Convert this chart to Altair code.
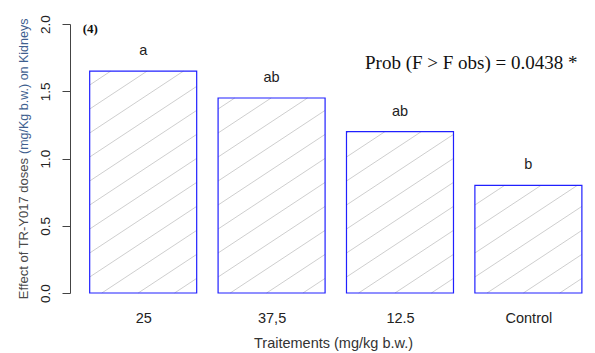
import json
import altair as alt
import pandas as pd

# ---- data ----
categories = ["25", "37,5", "12.5", "Control"]
values = [1.65, 1.45, 1.20, 0.80]
letters = ["a", "ab", "ab", "b"]
y_ticks = [0.0, 0.5, 1.0, 1.5, 2.0]

# ---- layout constants (R barplot: width 1, space 0.2) ----
BAR_W = 1.0
SPACE = 0.2
PX_PER_UNIT = 107
PLOT_W = 515
X_DOMAIN = [0.016, 0.016 + PLOT_W / PX_PER_UNIT]
PLOT_H = 269

lefts = [SPACE + i * (BAR_W + SPACE) for i in range(len(categories))]
centers = [l + BAR_W / 2 for l in lefts]

bars = pd.DataFrame({
    "cat": categories,
    "left": lefts,
    "right": [l + BAR_W for l in lefts],
    "center": centers,
    "value": values,
    "letter": letters,
})

# ---- hatch lines (style: slope & spacing in pixels converted to data units) ----
px_per_x = PX_PER_UNIT
px_per_y = PLOT_H / 2.0
slope = 0.66 * px_per_x / px_per_y
spacing = 24 / px_per_y
offset = 16 / px_per_y
rows = []
for a, v in zip(lefts, values):
    b = a + BAR_W
    k = -20
    while True:
        c = offset + k * spacing
        k += 1
        if c >= v:
            break
        if c <= -slope * (b - a):
            continue
        x1 = max(a, a - c / slope)
        x2 = min(b, a + (v - c) / slope)
        if x2 <= x1:
            continue
        rows.append({"x1": x1, "y1": slope * (x1 - a) + c,
                     "x2": x2, "y2": slope * (x2 - a) + c})
hatch = pd.DataFrame(rows)

label_expr = json.dumps(categories) + "[round((datum.value - %g) / %g)]" % (centers[0], BAR_W + SPACE)

xscale = alt.Scale(domain=X_DOMAIN, nice=False, zero=False)
yscale = alt.Scale(domain=[0, 2], nice=False)

x_axis = alt.Axis(values=centers, labelExpr=label_expr, domain=False, ticks=False,
                  grid=False, labelFont="Liberation Sans", labelFontSize=14.5,
                  labelColor="#222222", labelPadding=18,
                  title="Traitements (mg/kg b.w.)", titleFont="Liberation Sans",
                  titleFontSize=14.5, titleFontWeight="normal", titleColor="#333333",
                  titlePadding=12, titleX=263)
y_axis = alt.Axis(values=y_ticks, format=".1f", grid=False, domainColor="#444444",
                  tickColor="#444444", tickSize=8, labelAngle=270, labelAlign="center",
                  labelBaseline="bottom", labelPadding=10, labelFont="Liberation Sans",
                  labelFontSize=13.5, labelColor="#222222", title=None)

base = alt.Chart(bars)

hatch_layer = alt.Chart(hatch).mark_rule(color="#c8c8c8", strokeWidth=0.9).encode(
    x=alt.X("x1:Q", scale=xscale, axis=x_axis),
    y=alt.Y("y1:Q", scale=yscale, axis=y_axis),
    x2="x2:Q",
    y2="y2:Q",
)

bar_layer = base.mark_rect(fill="white", fillOpacity=0, stroke="#2020ff", strokeWidth=1.2).encode(
    x=alt.X("left:Q", scale=xscale),
    x2="right:Q",
    y=alt.Y("value:Q", scale=yscale),
    y2=alt.datum(0),
)

letter_layer = base.mark_text(font="Liberation Sans", fontSize=14.5, color="#222222",
                              baseline="alphabetic", dy=-16).encode(
    x=alt.X("center:Q", scale=xscale),
    y=alt.Y("value:Q", scale=yscale),
    text="letter:N",
)

# y-axis title, drawn in two colours as in the original
title_df = pd.DataFrame({
    "part": ["Effect of TR-Y017 doses", "(mg/Kg b.w.) on Kidneys"],
})
title1 = alt.Chart(title_df.iloc[[0]]).mark_text(
    angle=270, align="right", baseline="middle", font="Liberation Sans",
    fontSize=13, color="#4a4a4a").encode(
    x=alt.value(-46), y=alt.value(134), text="part:N")
title2 = alt.Chart(title_df.iloc[[1]]).mark_text(
    angle=270, align="left", baseline="middle", font="Liberation Sans",
    fontSize=12.5, color="#3f5f8f").encode(
    x=alt.value(-46), y=alt.value(130), text="part:N")

# annotations
annot = pd.DataFrame({
    "x": [0.135, 2.773],
    "y": [1.93, 1.665],
    "t": ["(4)", "Prob (F > F obs) = 0.0438 *"],
})
panel_tag = alt.Chart(annot.iloc[[0]]).mark_text(
    font="Liberation Serif", fontSize=13, fontWeight="bold", color="#111111",
    align="left", baseline="alphabetic").encode(
    x=alt.X("x:Q", scale=xscale), y=alt.Y("y:Q", scale=yscale), text="t:N")
prob = alt.Chart(annot.iloc[[1]]).mark_text(
    font="Liberation Serif", fontSize=19, color="#111111",
    align="left", baseline="alphabetic").encode(
    x=alt.X("x:Q", scale=xscale), y=alt.Y("y:Q", scale=yscale), text="t:N")

chart = alt.layer(hatch_layer, bar_layer, letter_layer, title1, title2, panel_tag, prob).properties(
    width=PLOT_W,
    height=PLOT_H,
    autosize=alt.AutoSizeParams(type="none"),
    padding={"left": 62, "top": 16, "right": 0, "bottom": 60},
    background="white",
).configure_view(stroke=None)

chart.save("out.html", embed_options={"renderer": "svg", "actions": False})
